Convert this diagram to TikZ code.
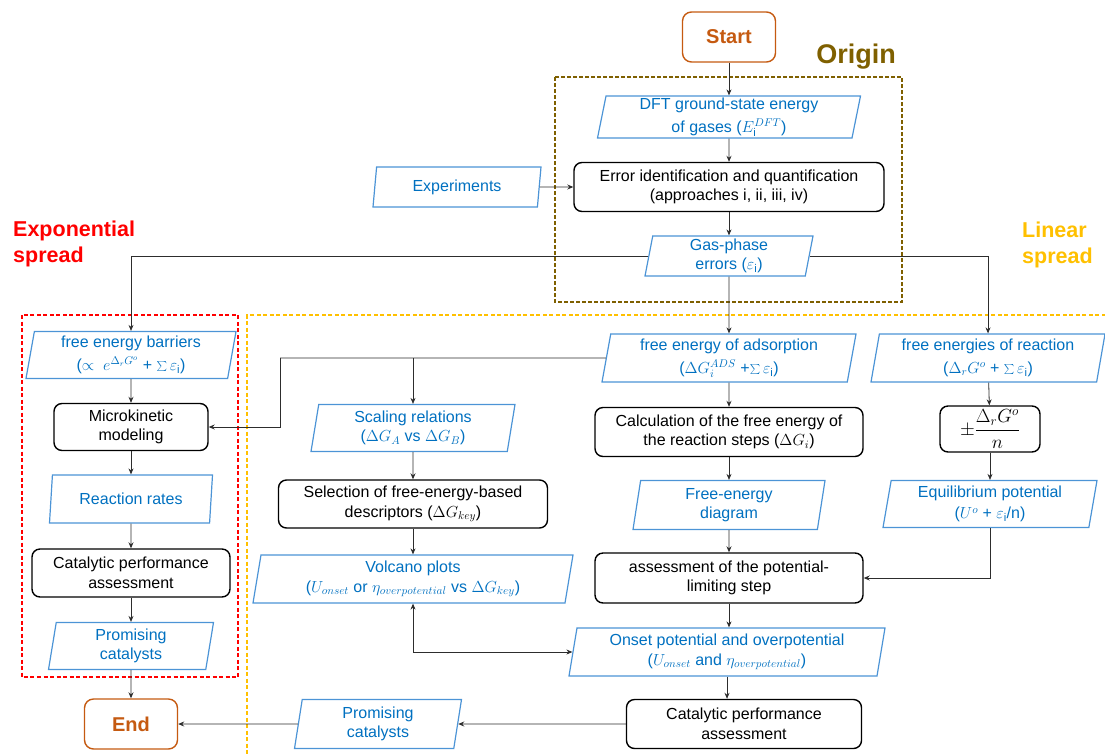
\RequirePackage{fix-cm}
\documentclass[tikz,border=0pt]{standalone}
\usepackage{fontspec}
\setmainfont{Liberation Sans}
\usetikzlibrary{shapes.geometric,arrows.meta,calc}
\definecolor{tblue}{RGB}{0,112,192}
\definecolor{pblue}{RGB}{76,148,214}
\definecolor{orng}{RGB}{197,90,17}
\definecolor{olivebr}{RGB}{127,96,0}
\definecolor{ylw}{RGB}{255,192,0}
\definecolor{lnk}{RGB}{45,45,45}
\newcommand{\fs}{\fontsize{16}{19.5}\selectfont}
\newcommand{\epsi}{\varepsilon_{\mathrm{i}}}
\begin{document}
\begin{tikzpicture}[x=1pt,y=-1pt,
  proc/.style={draw=black, line width=1.4pt, rounded corners=8pt, align=center, font=\fs, inner sep=2pt},
  term/.style={draw=orng, line width=1.4pt, rounded corners=9pt, text=orng, font=\fontsize{20}{24}\selectfont\bfseries, minimum width=93pt, minimum height=50pt},
  io/.style={trapezium, trapezium left angle=78, trapezium right angle=102, trapezium stretches body, draw=pblue, line width=1.2pt, text=tblue, align=center, font=\fs, inner sep=1pt},
  link/.style={draw=lnk, line width=0.8pt},
  arr/.style={link, -{Stealth[length=6pt,width=5pt]}},
  biarr/.style={link, {Stealth[length=6pt,width=5pt]}-{Stealth[length=6pt,width=5pt]}},
  lab/.style={font=\fontsize{21.5}{26}\selectfont\bfseries, align=left, inner sep=0pt, anchor=north west}
]
\useasboundingbox (0,0) rectangle (1105,753);

% region frames
\draw[olivebr, line width=1.5pt, dash pattern=on 4pt off 2pt] (555,77) rectangle (902,302);
\draw[red, line width=1.5pt, dash pattern=on 4pt off 2.5pt] (22,315) rectangle (238,677);
\draw[ylw, line width=1.5pt, dash pattern=on 4pt off 2.5pt] (1112,315) -- (247,315) -- (247,760);

% labels
\node[text=olivebr, font=\fontsize{27}{30}\selectfont\bfseries] (origin) at (856,57) {Origin};
\node[lab, text=red] (expo) at (13,221) {Exponential\\spread};
\node[lab, text=ylw] (lin) at (1022,222) {Linear\\spread};

% nodes
\node[term] (start) at (729,37) {Start};
\node[io, minimum width=263pt, minimum height=42pt] (dft) at (729,117) {DFT ground-state energy\\[3pt]of gases ($E_{\mathrm{i}}^{DFT}$)};
\node[proc, minimum width=310pt, minimum height=49pt] (err) at (729,187) {Error identification and quantification\\(approaches i, ii, iii, iv)};
\node[io, minimum width=168pt, minimum height=40pt] (exper) at (457,187) {Experiments};
\node[io, minimum width=168pt, minimum height=40pt] (gas) at (729,256) {Gas-phase\\errors ($\epsi$)};

\node[io, minimum width=210pt, minimum height=47pt] (feb) at (131,355) {free energy barriers\\[3pt]($\propto$ \ $e^{\Delta_r G^o}$ + $\sum\epsi$)};
\node[proc, minimum width=154pt, minimum height=47pt] (mk) at (131,427) {Microkinetic\\modeling};
\node[io, minimum width=163pt, minimum height=48pt] (rr) at (131,499) {Reaction rates};
\node[proc, minimum width=198pt, minimum height=48pt] (cpa1) at (131,573) {Catalytic performance\\assessment};
\node[io, minimum width=165pt, minimum height=47pt] (prom1) at (131,646) {Promising\\catalysts};
\node[term] (end) at (131,724) {End};

\node[io, minimum width=204pt, minimum height=47pt] (scal) at (413,428) {Scaling relations\\($\Delta G_A$ vs $\Delta G_B$)};
\node[proc, minimum width=269pt, minimum height=48pt] (sel) at (413,504) {Selection of free-energy-based\\descriptors ($\Delta G_{key}$)};
\node[io, minimum width=320pt, minimum height=48pt] (volc) at (413,579) {Volcano plots\\($U_{onset}$ or $\eta_{overpotential}$ vs $\Delta G_{key}$)};

\node[io, minimum width=254pt, minimum height=48pt] (fea) at (729,358) {free energy of adsorption\\[4pt]($\Delta G_i^{ADS}$ +$\sum\epsi$)};
\node[proc, minimum width=268pt, minimum height=49pt] (calc) at (729,432) {Calculation of the free energy of\\the reaction steps ($\Delta G_i$)};
\node[io, minimum width=192pt, minimum height=49pt] (fed) at (729,505) {Free-energy\\diagram};
\node[proc, minimum width=268pt, minimum height=50pt] (ass) at (729,578) {assessment of the potential-\\limiting step};
\node[io, minimum width=316pt, minimum height=48pt] (ons) at (727,652) {Onset potential and overpotential\\($U_{onset}$ and $\eta_{overpotential}$)};
\node[proc, minimum width=235pt, minimum height=49pt] (cpa2) at (744,724) {Catalytic performance\\assessment};
\node[io, minimum width=167pt, minimum height=49pt] (prom2) at (378,724) {Promising\\catalysts};

\node[io, minimum width=234pt, minimum height=48pt] (fer) at (988,358) {free energies of reaction\\[3pt]($\Delta_r G^o$ + $\sum\epsi$)};
\node[proc, minimum width=100pt, minimum height=46pt, inner sep=0pt] (frac) at (990,429) {\fontsize{19}{22}\selectfont$\pm\displaystyle\frac{\Delta_r G^o}{n}$};
\node[io, minimum width=214pt, minimum height=47pt] (eq) at (990,504) {Equilibrium potential\\[2pt]($U^o$ + $\epsi$/n)};

\coordinate (j1) at (280,358);

% connectors
\draw[arr] (start) -- (dft);
\draw[arr] (dft) -- (err);
\draw[arr] (exper.east) -- (err.west);
\draw[arr] (err) -- (gas);
\draw[arr] (gas.west) -| (feb.north);
\draw[arr] (gas.east) -| (fer.north);
\draw[arr] (gas) -- (fea);

\draw[arr] (feb) -- (mk);
\draw[arr] (mk) -- (rr);
\draw[arr] (rr) -- (cpa1);
\draw[arr] (cpa1) -- (prom1);
\draw[arr] (prom1) -- (end);

\draw[link] (fea.west) -- (j1);
\draw[arr] (j1) |- (mk.east);
\draw[arr] (fea.west -| scal.north) -- (scal.north);
\draw[arr] (scal) -- (sel);
\draw[arr] (sel) -- (volc);
\draw[biarr] (volc.south) |- (ons.west);

\draw[arr] (fea) -- (calc);
\draw[arr] (calc) -- (fed);
\draw[arr] (fed) -- (ass);
\draw[arr] (ass.south) -- (ass.south |- ons.north);
\draw[arr] (ons.south) -- (ons.south |- cpa2.north);
\draw[arr] (cpa2.west) -- (prom2.east);
\draw[arr] (prom2.west) -- (end.east);

\draw[arr] (fer) -- (frac);
\draw[arr] (frac) -- (eq);
\draw[arr] (eq.south) |- (ass.east);
\end{tikzpicture}
\end{document}
